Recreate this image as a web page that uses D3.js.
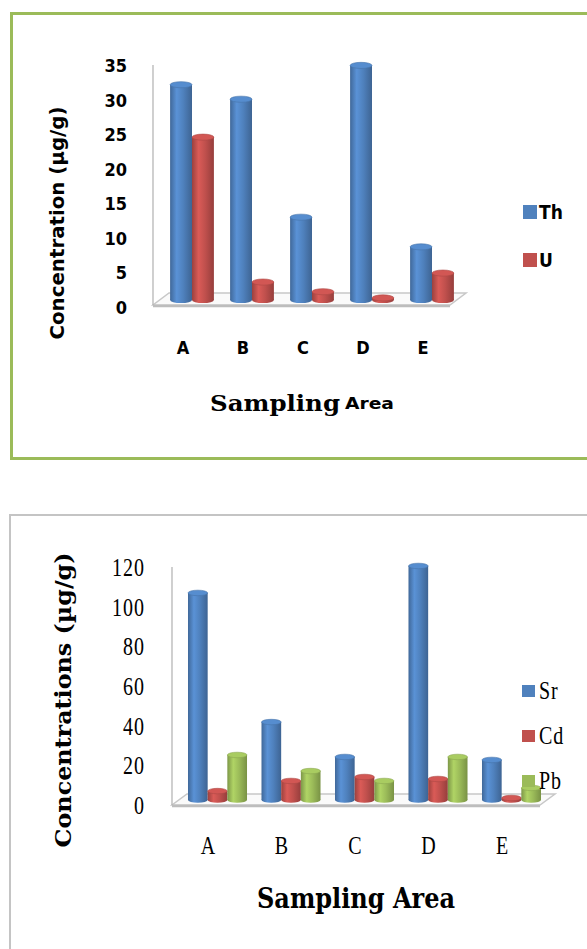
<!DOCTYPE html>
<html>
<head>
<meta charset="utf-8">
<script src="https://cdn.jsdelivr.net/npm/d3@7/dist/d3.min.js"></script>
<style>
  html, body { margin: 0; padding: 0; background: #ffffff; }
  svg { display: block; }
</style>
</head>
<body>
<svg id="fig" width="587" height="949"></svg>
<script>
// ---- Data: Th / U (upper panel) ----
const areas = ["A", "B", "C", "D", "E"];
const radioSeries = ["Th", "U"];
const thValues = [31.2, 29.1, 12.0, 34.0, 7.7];
const uValues = [23.6, 2.6, 1.2, 0.3, 3.9];
const radioTicks = [0, 5, 10, 15, 20, 25, 30, 35];

// ---- Data: Sr / Cd / Pb (lower panel) ----
const metalSeries = ["Sr", "Cd", "Pb"];
const srValues = [104.4, 39.3, 21.7, 118.0, 20.2];
const cdValues = [4.5, 9.6, 11.6, 10.6, 1.0];
const pbValues = [22.7, 14.6, 9.6, 21.7, 6.1];
const metalTicks = [0, 20, 40, 60, 80, 100, 120];

const palette = { Th: "#4f81bd", U: "#c0504d", Sr: "#4f81bd", Cd: "#c0504d", Pb: "#9bbb59" };

const svg = d3.select("#fig");
const defs = svg.append("defs");

// Cylinder shading gradients
function addGradient(id, base) {
  const c = d3.color(base);
  const g = defs.append("linearGradient").attr("id", id)
    .attr("x1", "0%").attr("x2", "100%").attr("y1", "0%").attr("y2", "0%");
  g.append("stop").attr("offset", "0%").attr("stop-color", c.darker(0.6));
  g.append("stop").attr("offset", "30%").attr("stop-color", c.brighter(0.35));
  g.append("stop").attr("offset", "60%").attr("stop-color", c);
  g.append("stop").attr("offset", "100%").attr("stop-color", c.darker(0.7));
}
Object.keys(palette).forEach(k => addGradient("grad-" + k, palette[k]));

function cylinder(g, x0, w, yTopEdge, yBase, key) {
  const color = d3.color(palette[key]);
  const ry = Math.max(2, w * 0.14);
  g.append("ellipse").attr("cx", x0 + w / 2).attr("cy", yBase).attr("rx", w / 2).attr("ry", ry)
    .attr("fill", `url(#grad-${key})`);
  g.append("rect").attr("x", x0).attr("y", yTopEdge).attr("width", w).attr("height", Math.max(0, yBase - yTopEdge))
    .attr("fill", `url(#grad-${key})`);
  g.append("ellipse").attr("cx", x0 + w / 2).attr("cy", yTopEdge).attr("rx", w / 2).attr("ry", ry)
    .attr("fill", color.brighter(0.25)).attr("stroke", color.darker(0.3)).attr("stroke-width", 0.6);
}

function floor(g, fl, fr, depthX, depthY, axisTop) {
  const pts = [[fl, fr[1]], [fr[0], fr[1]], [fr[0] + depthX, fr[1] - depthY], [fl + depthX, fr[1] - depthY]];
  g.append("polygon").attr("points", pts.map(p => p.join(",")).join(" "))
    .attr("fill", "#fafafa").attr("stroke", "#c8c8c8").attr("stroke-width", 1.5);
  g.append("line").attr("x1", fl).attr("x2", fr[0]).attr("y1", fr[1] + 1).attr("y2", fr[1] + 1)
    .attr("stroke", "#bdbdbd").attr("stroke-width", 2.5);
  g.append("line").attr("x1", fl).attr("x2", fl).attr("y1", axisTop).attr("y2", fr[1])
    .attr("stroke", "#b0b0b0").attr("stroke-width", 1.2);
}

// ================= Upper panel =================
svg.append("rect").attr("x", 11.5).attr("y", 13.5).attr("width", 600).attr("height", 445)
  .attr("fill", "#ffffff").attr("stroke", "#9bbb59").attr("stroke-width", 3);

const gTop = svg.append("g");
const xTop = d3.scaleBand().domain(areas).range([162, 462]).paddingInner(0.27).paddingOuter(0.135);
const xTopInner = d3.scaleBand().domain(radioSeries).range([0, xTop.bandwidth()]);
const yTop = d3.scaleLinear().domain([0, 35]).range([300, 58.5]);
const yTopTick = d3.scaleLinear().domain([0, 35]).range([307, 65]);

floor(gTop, 153, [450, 305], 16, 12, 65);

const radioRows = areas.map((a, i) => ({ area: a, Th: thValues[i], U: uValues[i] }));
radioRows.forEach(r => {
  radioSeries.forEach(s => {
    cylinder(gTop, xTop(r.area) + xTopInner(s), xTopInner.bandwidth(), yTop(r[s]), yTop(0), s);
  });
});

const sansC = "'DejaVu Sans Condensed', 'DejaVu Sans', sans-serif";

const yAxisTop = gTop.append("g").attr("transform", "translate(127,0)")
  .call(d3.axisLeft(yTopTick).tickValues(radioTicks).tickSize(0).tickPadding(0));
yAxisTop.select(".domain").remove();
yAxisTop.selectAll("text")
  .attr("font-family", sansC)
  .attr("font-weight", "bold").attr("font-size", 18).attr("fill", "#000")
  .attr("dy", "0.36em");

const xAxisTop = gTop.append("g").attr("transform", "translate(-9,348)")
  .call(d3.axisBottom(xTop).tickSize(0).tickPadding(0));
xAxisTop.select(".domain").remove();
xAxisTop.selectAll("text")
  .attr("font-family", sansC)
  .attr("font-weight", "bold").attr("font-size", 18).attr("fill", "#000")
  .attr("y", 0).attr("dy", "0.36em");

gTop.append("text")
  .attr("transform", "translate(64,223) rotate(-90)")
  .attr("text-anchor", "middle")
  .attr("font-family", sansC)
  .attr("font-weight", "bold").attr("font-size", 19)
  .attr("textLength", 233).attr("lengthAdjust", "spacingAndGlyphs")
  .text("Concentration (µg/g)");

gTop.append("text").attr("x", 210).attr("y", 411)
  .attr("font-family", "'DejaVu Serif', serif").attr("font-weight", "bold").attr("font-size", 22)
  .attr("textLength", 130).attr("lengthAdjust", "spacingAndGlyphs")
  .text("Sampling");
gTop.append("text").attr("x", 345).attr("y", 409)
  .attr("font-family", sansC).attr("font-weight", "bold").attr("font-size", 15)
  .attr("textLength", 49).attr("lengthAdjust", "spacingAndGlyphs")
  .text("Area");

const legTop = gTop.append("g");
radioSeries.forEach((s, i) => {
  const cy = 212 + i * 48;
  legTop.append("rect").attr("x", 523).attr("y", cy - 7).attr("width", 14).attr("height", 14)
    .attr("fill", palette[s]);
  legTop.append("text").attr("x", 539).attr("y", cy).attr("dy", "0.36em")
    .attr("font-family", sansC).attr("font-weight", "bold").attr("font-size", 19)
    .text(s);
});

// ================= Lower panel =================
svg.append("rect").attr("x", 10).attr("y", 515).attr("width", 600).attr("height", 460)
  .attr("fill", "#ffffff").attr("stroke", "#c4c4c4").attr("stroke-width", 2);

const gBot = svg.append("g");
const xBot = d3.scaleBand().domain(areas).range([180.75, 548.25]).paddingInner(0.197).paddingOuter(0.0986);
const xBotInner = d3.scaleBand().domain(metalSeries).range([0, xBot.bandwidth()]);
const yBot = d3.scaleLinear().domain([0, 120]).range([800, 562]);
const yBotTick = d3.scaleLinear().domain([0, 120]).range([805, 567]);

floor(gBot, 172, [540, 805], 15, 11, 567);

const metalRows = areas.map((a, i) => ({ area: a, Sr: srValues[i], Cd: cdValues[i], Pb: pbValues[i] }));
metalRows.forEach(r => {
  metalSeries.forEach(s => {
    cylinder(gBot, xBot(r.area) + xBotInner(s), xBotInner.bandwidth(), yBot(r[s]), yBot(0), s);
  });
});

const serif = "'Liberation Serif', 'Times New Roman', serif";

const yAxisBot = gBot.append("g").attr("transform", "translate(145,0)")
  .call(d3.axisLeft(yBotTick).tickValues(metalTicks).tickSize(0).tickPadding(0));
yAxisBot.select(".domain").remove();
yAxisBot.selectAll("text")
  .attr("font-family", serif).attr("font-size", 20).attr("fill", "#000")
  .attr("letter-spacing", 1)
  .attr("dy", "0.34em").attr("transform", "scale(1,1.25)");

const xAxisBot = gBot.append("g").attr("transform", "translate(-9.5,845)")
  .call(d3.axisBottom(xBot).tickSize(0).tickPadding(0));
xAxisBot.select(".domain").remove();
xAxisBot.selectAll("text")
  .attr("font-family", serif).attr("font-size", 20).attr("fill", "#000")
  .attr("y", 0).attr("dy", "0.34em").attr("transform", "scale(1,1.25)");

gBot.append("text")
  .attr("transform", "translate(71,700) rotate(-90)")
  .attr("text-anchor", "middle")
  .attr("font-family", "'DejaVu Serif', serif").attr("font-weight", "bold").attr("font-size", 22)
  .attr("textLength", 295).attr("lengthAdjust", "spacingAndGlyphs")
  .text("Concentrations (µg/g)");

gBot.append("text")
  .attr("transform", "translate(356,898) scale(1,1.3)")
  .attr("text-anchor", "middle").attr("dy", "0.35em")
  .attr("font-family", "'DejaVu Serif', serif").attr("font-weight", "bold").attr("font-size", 21)
  .attr("textLength", 198).attr("lengthAdjust", "spacingAndGlyphs")
  .text("Sampling Area");

const legBot = gBot.append("g");
metalSeries.forEach((s, i) => {
  const cy = 691 + i * 45;
  legBot.append("rect").attr("x", 522).attr("y", cy - 6).attr("width", 13).attr("height", 12)
    .attr("fill", palette[s]);
  legBot.append("text").attr("x", 539).attr("y", cy).attr("dy", "0.34em")
    .attr("transform", `translate(0,${cy}) scale(1,1.25) translate(0,${-cy})`)
    .attr("font-family", serif).attr("font-size", 20).attr("letter-spacing", 1)
    .text(s);
});
</script>
</body>
</html>
